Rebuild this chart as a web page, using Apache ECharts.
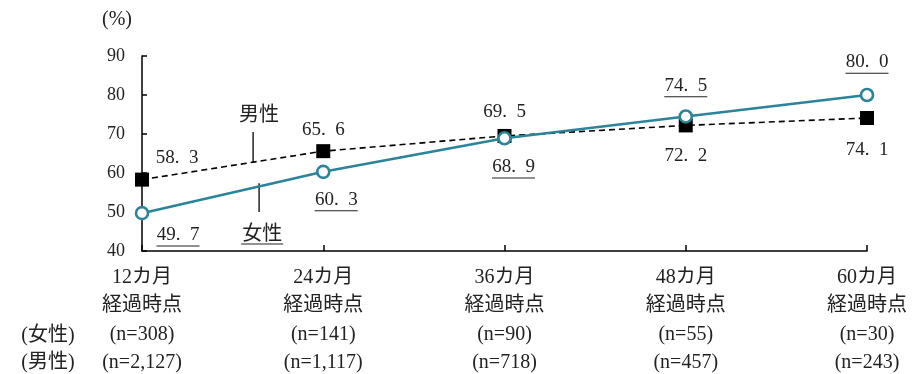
<!DOCTYPE html>
<html>
<head>
<meta charset="utf-8">
<script src="https://cdn.jsdelivr.net/npm/echarts@6/dist/echarts.min.js"></script>
<style>
  html, body { margin: 0; padding: 0; background: #fff; }
  #chart { width: 913px; height: 374px; }
</style>
</head>
<body>
<div id="chart"></div>
<script>
// Elapsed-time categories and sample sizes
const periods = ['12カ月', '24カ月', '36カ月', '48カ月', '60カ月'];
const nFemale = ['308', '141', '90', '55', '30'];
const nMale = ['2,127', '1,117', '718', '457', '243'];

// Rates (%)
const maleValues = [58.3, 65.6, 69.5, 72.2, 74.1];
const femaleValues = [49.7, 60.3, 68.9, 74.5, 80.0];

// Y axis ticks
const yTicks = [40, 50, 60, 70, 80, 90];

const FONT = "'Liberation Serif', 'Noto Sans CJK JP', serif";
const TEAL = '#2b8499';
const INK = '#222';

// label placement per point (position and pixel offset)
const maleLabelPos = [
  { position: 'top', offset: [35, 0] },
  { position: 'top', offset: [0, 0] },
  { position: 'top', offset: [0, -2] },
  { position: 'bottom', offset: [0, 9] },
  { position: 'bottom', offset: [0, 11] }
];
const femaleLabelPos = [
  { position: 'bottom', offset: [36, 0] },
  { position: 'bottom', offset: [13, 6] },
  { position: 'bottom', offset: [9, 7] },
  { position: 'top', offset: [0, -6] },
  { position: 'top', offset: [0, -8] }
];

// decimal point followed by an en space, as typeset in the source document
const fmt = v => v.toFixed(1).replace('.', '.\u2002');

const chart = echarts.init(document.getElementById('chart'));

const option = {
  animation: false,
  backgroundColor: '#fff',
  textStyle: { fontFamily: FONT },
  grid: { left: 142, right: 46, top: 56, bottom: 123, containLabel: false },
  xAxis: {
    type: 'category',
    data: periods.map((p, i) => i),
    boundaryGap: false,
    axisLine: { lineStyle: { color: '#000', width: 1.5 } },
    axisTick: { inside: true, length: 6, lineStyle: { color: '#000', width: 1.5 } },
    axisLabel: {
      margin: 12,
      interval: 0,
      formatter: (v, i) =>
        `{a|${periods[i]}}\n{a|経過時点}\n{a|(n=${nFemale[i]})}\n{a|(n=${nMale[i]})}`,
      rich: {
        a: { fontFamily: FONT, fontSize: 20, color: INK, lineHeight: 28.5, align: 'center' }
      }
    },
    splitLine: { show: false }
  },
  yAxis: {
    type: 'value',
    min: yTicks[0],
    max: yTicks[yTicks.length - 1],
    interval: 10,
    axisLine: { show: true, lineStyle: { color: '#000', width: 1.5 } },
    axisTick: { show: true, inside: true, length: 5, lineStyle: { color: '#000', width: 1.5 } },
    axisLabel: { margin: 17, fontFamily: FONT, fontSize: 18, color: INK },
    splitLine: { show: false }
  },
  series: [
    {
      name: '男性',
      type: 'line',
      z: 2,
      data: maleValues.map((v, i) => ({
        value: v,
        label: Object.assign({}, maleLabelPos[i])
      })),
      symbol: 'rect',
      symbolSize: 14,
      itemStyle: { color: '#000' },
      lineStyle: { color: '#000', width: 1.6, type: [6, 4] },
      label: {
        show: true,
        distance: 5,
        fontFamily: FONT,
        fontSize: 19,
        color: INK,
        formatter: p => fmt(p.value)
      }
    },
    {
      name: '女性',
      type: 'line',
      z: 3,
      data: femaleValues.map((v, i) => ({
        value: v,
        label: Object.assign({}, femaleLabelPos[i])
      })),
      symbol: 'circle',
      symbolSize: 12,
      itemStyle: { color: '#fff', borderColor: TEAL, borderWidth: 2.6 },
      lineStyle: { color: TEAL, width: 2.6 },
      label: {
        show: true,
        distance: 5,
        formatter: p => `{v|${fmt(p.value)}}\n{u|}`,
        rich: {
          v: { fontFamily: FONT, fontSize: 19, color: INK, lineHeight: 19, align: 'center' },
          u: { width: 43, height: 1, lineHeight: 3, backgroundColor: INK, align: 'center' }
        }
      }
    }
  ]
};

chart.setOption(option);

// annotations placed from data coordinates along the segment between the first two categories
function along(t, value) {
  const a = chart.convertToPixel({ gridIndex: 0 }, [0, value]);
  const b = chart.convertToPixel({ gridIndex: 0 }, [1, value]);
  return [a[0] + (b[0] - a[0]) * t, a[1]];
}
const maleTop = along(0.613, 70.5);
const maleBot = along(0.613, 62.6);
const femTop = along(0.646, 57.4);
const femBot = along(0.646, 50.0);
const maleTxt = along(0.646, 74.6);
const femTxt = along(0.663, 44.2);

chart.setOption({
  graphic: [
    { type: 'text', x: 117, y: 20,
      style: { text: '(%)', font: `20px ${FONT}`, fill: INK, align: 'center', verticalAlign: 'middle' } },
    { type: 'line', shape: { x1: maleTop[0], y1: maleTop[1], x2: maleBot[0], y2: maleBot[1] },
      style: { stroke: '#000', lineWidth: 1.3 } },
    { type: 'line', shape: { x1: femTop[0], y1: femTop[1], x2: femBot[0], y2: femBot[1] },
      style: { stroke: '#000', lineWidth: 1.3 } },
    { type: 'text', x: maleTxt[0], y: maleTxt[1],
      style: { text: '男性', font: `20px ${FONT}`, fill: INK, align: 'center', verticalAlign: 'middle' } },
    { type: 'text', x: femTxt[0], y: femTxt[1],
      style: { text: '女性', font: `20px ${FONT}`, fill: INK, align: 'center', verticalAlign: 'middle' } },
    { type: 'rect', shape: { x: femTxt[0] - 21, y: femTxt[1] + 9, width: 42, height: 1 },
      style: { fill: INK } },
    { type: 'text', x: 48, y: 336,
      style: { text: '(女性)', font: `20px ${FONT}`, fill: INK, align: 'center', verticalAlign: 'middle' } },
    { type: 'text', x: 48, y: 363,
      style: { text: '(男性)', font: `20px ${FONT}`, fill: INK, align: 'center', verticalAlign: 'middle' } }
  ]
});
</script>
</body>
</html>
